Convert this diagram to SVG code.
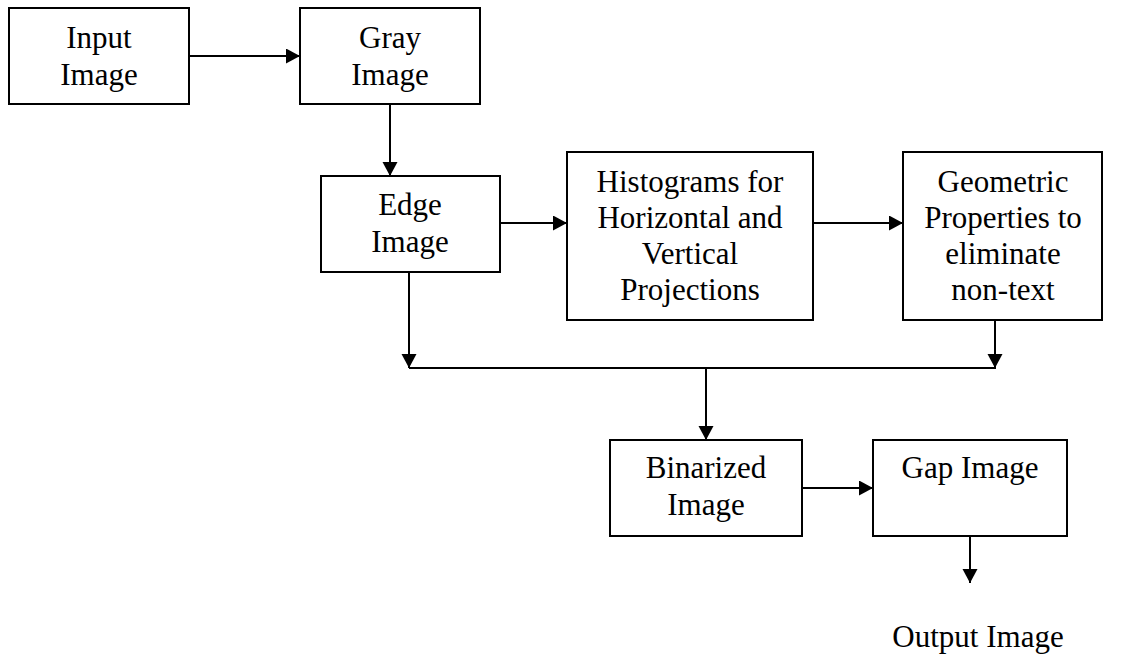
<svg xmlns="http://www.w3.org/2000/svg" width="1133" height="658" viewBox="0 0 1133 658">
<style>
.box{fill:#fff;stroke:#000;stroke-width:2}
.t{font-family:"Liberation Serif","Times New Roman",serif;font-size:31px;fill:#000;text-anchor:middle}
.c{fill:none;stroke:#000;stroke-width:2}
</style>
<defs>
<marker id="ah" markerUnits="userSpaceOnUse" markerWidth="15" markerHeight="16" refX="14" refY="7.5" orient="auto">
<path d="M0,0 L14,7.5 L0,15 z" fill="#000"/>
</marker>
</defs>
<rect width="1133" height="658" fill="#fff"/>
<g id="connectors">
<line class="c" x1="189" y1="56" x2="300" y2="56" marker-end="url(#ah)"/>
<line class="c" x1="390" y1="104" x2="390" y2="176" marker-end="url(#ah)"/>
<line class="c" x1="500" y1="223" x2="567" y2="223" marker-end="url(#ah)"/>
<line class="c" x1="813" y1="223" x2="903" y2="223" marker-end="url(#ah)"/>
<line class="c" x1="409" y1="272" x2="409" y2="368" marker-end="url(#ah)"/>
<line class="c" x1="995" y1="320" x2="995" y2="368" marker-end="url(#ah)"/>
<line class="c" x1="409" y1="368" x2="996" y2="368"/>
<line class="c" x1="706" y1="368" x2="706" y2="440" marker-end="url(#ah)"/>
<line class="c" x1="802" y1="488" x2="873" y2="488" marker-end="url(#ah)"/>
<line class="c" x1="970" y1="536" x2="970" y2="583" marker-end="url(#ah)"/>
</g>
<g id="input">
<rect class="box" x="9" y="8" width="180" height="96"/>
<text class="t" x="99" y="48">Input</text>
<text class="t" x="99" y="85">Image</text>
</g>
<g id="gray">
<rect class="box" x="300" y="8" width="180" height="96"/>
<text class="t" x="390" y="48">Gray</text>
<text class="t" x="390" y="85">Image</text>
</g>
<g id="edge">
<rect class="box" x="321" y="176" width="179" height="96"/>
<text class="t" x="410" y="215">Edge</text>
<text class="t" x="410" y="252">Image</text>
</g>
<g id="histograms">
<rect class="box" x="567" y="152" width="246" height="168"/>
<text class="t" x="690" y="192">Histograms for</text>
<text class="t" x="690" y="228">Horizontal and</text>
<text class="t" x="690" y="264">Vertical</text>
<text class="t" x="690" y="300">Projections</text>
</g>
<g id="geometric">
<rect class="box" x="903" y="152" width="199" height="168"/>
<text class="t" x="1003" y="192">Geometric</text>
<text class="t" x="1003" y="228">Properties to</text>
<text class="t" x="1003" y="264">eliminate</text>
<text class="t" x="1003" y="300">non-text</text>
</g>
<g id="binarized">
<rect class="box" x="610" y="440" width="192" height="96"/>
<text class="t" x="706" y="478">Binarized</text>
<text class="t" x="706" y="515">Image</text>
</g>
<g id="gap">
<rect class="box" x="873" y="440" width="194" height="96"/>
<text class="t" x="970" y="478">Gap Image</text>
</g>
<g id="output">
<text class="t" x="978" y="647">Output Image</text>
</g>
</svg>
